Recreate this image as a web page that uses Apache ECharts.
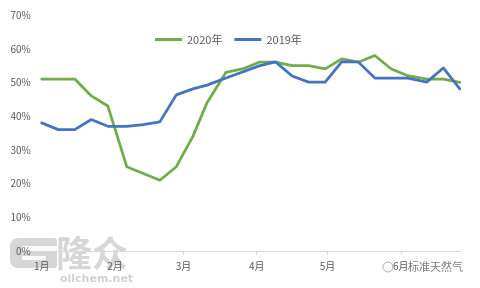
<!DOCTYPE html>
<html>
<head>
<meta charset="utf-8">
<script src="https://cdn.jsdelivr.net/npm/echarts@6/dist/echarts.min.js"></script>
<style>
html,body{margin:0;padding:0;background:#fff;}
#c{width:480px;height:288px;}
</style>
</head>
<body>
<div id="c"></div>
<script>
var dates = ['01-01','01-08','01-15','01-22','01-29','02-06','02-13','02-20','02-27','03-05','03-11','03-19','03-26','04-02','04-09','04-16','04-23','04-30','05-07','05-14','05-21','05-28','06-04','06-12','06-19','06-26'];
var series2020 = [51,51,51,46,43,25,23,21,25,34,44,53,54,56,56,55,55,54,57,56,58,54,52,51,51,50];
var series2019 = [38,36,36,39,37,37,37.5,38.3,46.3,48.1,49.2,51.3,53.1,54.9,56.1,51.9,50.1,50.1,56.1,56.1,51.3,51.3,51.3,50.1,54.3,48.1];
var monthStarts = ['01-01','02-01','03-01','04-01','05-01','06-01'];
var monthLabels = ['1月','2月','3月','4月','5月','6月'];
var yTicks = [0,10,20,30,40,50,60,70];
var seriesNames = ['2020年','2019年'];

function dayOf(md){
  var p = md.split('-');
  return (Date.UTC(2020, +p[0]-1, +p[1]) - Date.UTC(2020,0,1)) / 86400000;
}
var monthDays = monthStarts.map(dayOf);
function pairs(vals){ return vals.map(function(v,i){ return [dayOf(dates[i]), v]; }); }

var chart = echarts.init(document.getElementById('c'), null, {renderer:'canvas'});
var font = '"Noto Sans CJK SC", "Noto Sans", sans-serif';
chart.setOption({
  animation:false,
  backgroundColor:'#fff',
  textStyle:{fontFamily:font},
  grid:{left:35.8, right:19, top:15, bottom:37, containLabel:false},
  legend:{
    top:29, left:150,
    itemWidth:27, itemHeight:3, itemGap:12,
    icon:'rect',
    textStyle:{color:'#595959', fontSize:11, fontFamily:font},
    data:seriesNames
  },
  xAxis:{
    type:'value', min:-2.5, max:177.5,
    splitLine:{show:false},
    axisLine:{show:true, lineStyle:{color:'#d9d9d9', width:1}},
    axisTick:{show:true, length:4, lineStyle:{color:'#d9d9d9'}, customValues:monthDays},
    axisLabel:{
      customValues:monthDays, margin:10,
      color:'#595959', fontSize:10, fontFamily:font,
      formatter:function(v){ var i = monthDays.indexOf(v); return i>=0 ? monthLabels[i] : ''; }
    }
  },
  yAxis:{
    type:'value', min:yTicks[0], max:yTicks[yTicks.length-1], interval:10,
    splitLine:{show:false},
    axisLine:{show:false}, axisTick:{show:false},
    axisLabel:{color:'#595959', fontSize:10, margin:5, fontFamily:font, formatter:'{value}%'}
  },
  series:[
    {name:seriesNames[0], type:'line', data:pairs(series2020), showSymbol:false, symbol:'none',
     itemStyle:{color:'#70AD47'}, lineStyle:{color:'#70AD47', width:2.75, join:'round', cap:'round'}},
    {name:seriesNames[1], type:'line', data:pairs(series2019), showSymbol:false, symbol:'none',
     itemStyle:{color:'#4472C4'}, lineStyle:{color:'#4472C4', width:2.75, join:'round', cap:'round'}}
  ],
  graphic:[
    {type:'group', z:100, children:[
      {type:'rect', shape:{x:10,y:238,width:47,height:30,r:[8,3,3,8]}, style:{fill:'rgba(200,200,200,0.75)'}},
      {type:'rect', shape:{x:22,y:246,width:35,height:5}, style:{fill:'rgba(255,255,255,0.9)'}},
      {type:'rect', shape:{x:22,y:256,width:24,height:4}, style:{fill:'rgba(255,255,255,0.9)'}},
      {type:'text', x:56, y:253, style:{text:'隆众', font:'bold 36px "Noto Sans CJK SC"', fill:'rgba(200,200,200,0.75)', verticalAlign:'middle'}},
      {type:'text', x:60, y:279, style:{text:'oilchem.net', font:'bold 11px "DejaVu Sans"', fill:'rgba(200,200,200,0.85)', verticalAlign:'middle'}},
      {type:'circle', shape:{cx:388,cy:267,r:5}, style:{fill:'none', stroke:'rgba(120,120,120,0.6)', lineWidth:1}},
      {type:'text', x:408, y:267, style:{text:'标准天然气', font:'11px "Noto Sans CJK SC"', fill:'rgba(80,80,80,0.75)', verticalAlign:'middle'}}
    ]}
  ]
});
</script>
</body>
</html>
